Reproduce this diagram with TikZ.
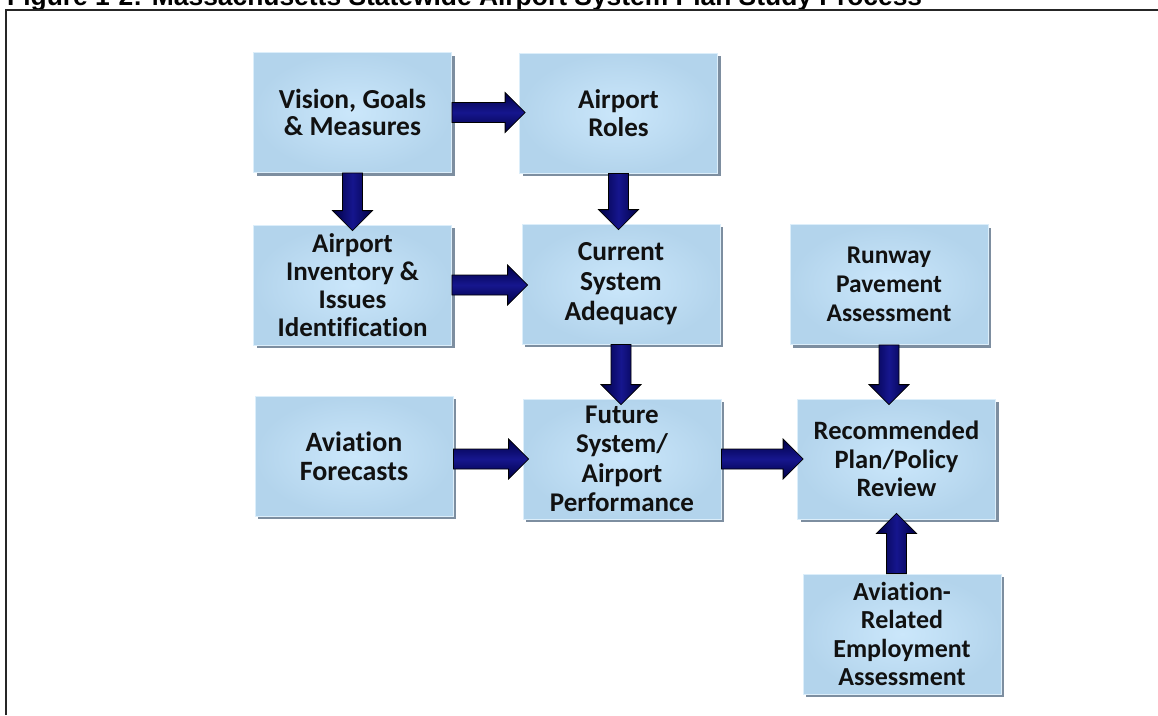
\documentclass[tikz,border=0pt]{standalone}
\usepackage{fontspec}
\newfontfamily\boxfont[Ligatures=CommonOff]{Carlito}
\newfontfamily\titlefont{Liberation Sans}
\usepackage{tikz}
\usetikzlibrary{calc,shadows}
\definecolor{mBoxLight}{HTML}{CBE7FB}
\definecolor{mBoxEdge}{HTML}{B3D4EC}
\definecolor{mBoxRim}{HTML}{DCEEFA}
\definecolor{mShadow}{HTML}{6F8296}
\definecolor{mNavy}{HTML}{16168E}
\definecolor{mNavyDark}{HTML}{000044}
\definecolor{mInk}{HTML}{111111}
\tikzset{
 boxsize/.style 2 args={font=\boxfont\bfseries\fontsize{#1}{#2}\selectfont},
 stagebox/.style={rectangle, draw=mBoxRim, line width=0.8pt, inner color=mBoxLight, outer color=mBoxEdge,
  minimum width=198pt, minimum height=120pt, inner sep=2pt, align=center, text=mInk,
  boxsize={26.5}{29},
  drop shadow={shadow xshift=3pt, shadow yshift=-3pt, fill=mShadow, opacity=0.9}},
 blockarrow/.style={draw=black, line width=0.8pt, line join=miter},
 harrow/.style={top color=mNavyDark, bottom color=mNavyDark, middle color=mNavy},
 varrow/.style={left color=mNavyDark, right color=mNavyDark, middle color=mNavy},
}
% fat arrow from #2 to #3, tip pushed a little into the target box
\newcommand{\flowarrow}[3][]{%
 \path (#2) coordinate (fa-s) (#3) coordinate (fa-t);
 \path ($(fa-t)!14pt!(fa-s)$) coordinate (fa-h) ($(fa-t)!-6pt!(fa-s)$) coordinate (fa-p);
 \draw[blockarrow,#1] ($(fa-s)!10pt!90:(fa-t)$) -- ($(fa-h)!10pt!90:(fa-t)$) -- ($(fa-h)!20pt!90:(fa-t)$)
  -- (fa-p) -- ($(fa-h)!20pt!-90:(fa-t)$) -- ($(fa-h)!10pt!-90:(fa-t)$) -- ($(fa-s)!10pt!-90:(fa-t)$) -- cycle;}

\begin{document}
\begin{tikzpicture}[x=1pt, y=-1pt]
\useasboundingbox (0,0) rectangle (1158,715);

% caption and frame
\node[font=\titlefont\bfseries\fontsize{26.4}{30}\selectfont, anchor=base west, inner sep=0] (title) at (7,5)
 {Figure 1-2: Massachusetts Statewide Airport System Plan Study Process};
\draw[black!85, line width=2pt] (6,715) -- (6,10) -- (1158,10);

% study steps
\node[stagebox, boxsize={27.5}{27}] (vision) at (352.5,112.5) {Vision, Goals\\\& Measures};
\node[stagebox, boxsize={27}{28}] (roles) at (618.5,113) {Airport\\Roles};
\node[stagebox, boxsize={27}{28}] (inventory) at (352.5,285) {Airport\\Inventory \&\\Issues\\Identification};
\node[stagebox, boxsize={27.5}{30}] (current) at (621,284) {Current\\System\\Adequacy};
\node[stagebox, boxsize={25.5}{29}] (runway) at (889,284.5) {Runway\\Pavement\\Assessment};
\node[stagebox, boxsize={28}{29}] (forecasts) at (354,456) {Aviation\\Forecasts};
\node[stagebox, boxsize={27}{29.5}] (future) at (622,459) {Future\\System/\\Airport\\Performance};
\node[stagebox, boxsize={26.5}{28.5}] (recommend) at (896.5,459) {Recommended\\Plan/Policy\\Review};
\node[stagebox, boxsize={26}{28.5}] (employ) at (902,634) {Aviation-\\Related\\Employment\\Assessment};

% flow between steps
\flowarrow[harrow]{vision.east}{vision.east -| roles.west}
\flowarrow[varrow]{vision.south}{vision.south |- inventory.north}
\flowarrow[varrow]{roles.south}{roles.south |- current.north}
\flowarrow[harrow]{inventory.east}{inventory.east -| current.west}
\flowarrow[varrow]{current.south}{current.south |- future.north}
\flowarrow[harrow]{forecasts.east |- future.west}{future.west}
\flowarrow[harrow]{future.east}{future.east -| recommend.west}
\flowarrow[varrow]{runway.south}{runway.south |- recommend.north}
\flowarrow[varrow]{recommend.south |- employ.north}{recommend.south}
\end{tikzpicture}
\end{document}
